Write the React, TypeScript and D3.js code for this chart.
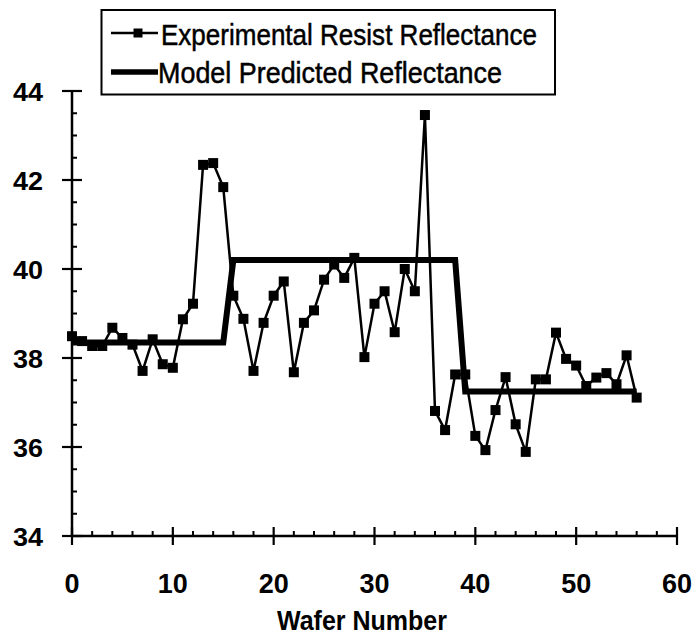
import React from "react";
import * as d3 from "d3";

const waferNumbers: number[] = d3.range(0, 57);
const experimental: number[] = [
  38.49, 38.38, 38.27, 38.27, 38.68, 38.45, 38.3, 37.71, 38.42, 37.86,
  37.78, 38.87, 39.22, 42.34, 42.38, 41.84, 39.4, 38.88, 37.71, 38.79,
  39.4, 39.72, 37.68, 38.79, 39.07, 39.76, 40.1, 39.8, 40.25, 38.02,
  39.22, 39.5, 38.58, 40.0, 39.5, 43.46, 36.81, 36.38, 37.63, 37.63,
  36.25, 35.93, 36.83, 37.57, 36.51, 35.89, 37.52, 37.52, 38.57, 37.98,
  37.83, 37.37, 37.56, 37.66, 37.41, 38.06, 37.11,
];
const modelX: number[] = [0, 15, 16, 38, 39, 56];
const modelY: number[] = [38.35, 38.35, 40.2, 40.2, 37.25, 37.25];
const xTicks: number[] = [0, 10, 20, 30, 40, 50, 60];
const yTicks: number[] = [34, 36, 38, 40, 42, 44];
const legendLabels: string[] = ["Experimental Resist Reflectance", "Model Predicted Reflectance"];
const xTitle = "Wafer Number";

const FONT = "'Liberation Sans', Arial, Helvetica, sans-serif";

export default function App() {
  const x = d3.scaleLinear().domain([0, 60]).range([72, 677]);
  const y = d3.scaleLinear().domain([34, 44]).range([536, 91]);

  const expLine = d3
    .line<number>()
    .x((_, i) => x(waferNumbers[i]))
    .y((d) => y(d));
  const modelLine = d3
    .line<number>()
    .x((_, i) => x(modelX[i]))
    .y((d) => y(d));

  const xMinor = d3.range(0, 61, 2).filter((v) => v % 10 !== 0);
  const yMinor = d3.range(34, 44.01, 0.5).filter((v) => Math.abs(v % 2) > 0.01);
  const ms = 10;

  return (
    <div style={{ position: "absolute", left: 0, top: 0 }}>
      <svg width={696} height={639} style={{ display: "block", background: "#fff" }}>
        {/* legend */}
        <rect x={101.5} y={10} width={453.5} height={84.5} fill="none" stroke="#000" strokeWidth={2} />
        <line x1={111} x2={158} y1={33} y2={33} stroke="#000" strokeWidth={2.5} />
        <rect x={138 - 4.5} y={33 - 4.5} width={9} height={9} fill="#000" />
        <text
          x={161}
          y={45}
          fontFamily={FONT}
          fontSize={30}
          stroke="#000"
          strokeWidth={0.5}
          textLength={376}
          lengthAdjust="spacingAndGlyphs"
        >
          {legendLabels[0]}
        </text>
        <line x1={111} x2={158} y1={72} y2={72} stroke="#000" strokeWidth={5.5} />
        <text
          x={158}
          y={83}
          fontFamily={FONT}
          fontSize={30}
          stroke="#000"
          strokeWidth={0.5}
          textLength={344}
          lengthAdjust="spacingAndGlyphs"
        >
          {legendLabels[1]}
        </text>

        {/* axes */}
        <line x1={x(0)} x2={x(0)} y1={y(44)} y2={y(34)} stroke="#000" strokeWidth={2.5} />
        <line x1={x(0)} x2={x(60)} y1={y(34)} y2={y(34)} stroke="#000" strokeWidth={2.5} />
        {yTicks.map((t) => (
          <g key={"yt" + t}>
            <line x1={x(0) - 10} x2={x(0) + 10} y1={y(t)} y2={y(t)} stroke="#000" strokeWidth={2.2} />
            <text
              x={43}
              y={y(t) + 9.5}
              textAnchor="end"
              fontFamily={FONT}
              fontWeight="bold"
              fontSize={26}
              textLength={30}
              lengthAdjust="spacingAndGlyphs"
            >
              {t}
            </text>
          </g>
        ))}
        {yMinor.map((t) => (
          <line key={"ym" + t} x1={x(0)} x2={x(0) + 5} y1={y(t)} y2={y(t)} stroke="#000" strokeWidth={2} />
        ))}
        {xTicks.map((t) => (
          <g key={"xt" + t}>
            <line x1={x(t)} x2={x(t)} y1={y(34) - 9} y2={y(34) + 9} stroke="#000" strokeWidth={2.2} />
            <text
              x={x(t)}
              y={593}
              textAnchor="middle"
              fontFamily={FONT}
              fontWeight="bold"
              fontSize={27}
            >
              {t}
            </text>
          </g>
        ))}
        {xMinor.map((t) => (
          <line key={"xm" + t} x1={x(t)} x2={x(t)} y1={y(34)} y2={y(34) - 5} stroke="#000" strokeWidth={2} />
        ))}
        <text
          x={362}
          y={630}
          textAnchor="middle"
          fontFamily={FONT}
          fontWeight="bold"
          fontSize={28}
          textLength={170}
          lengthAdjust="spacingAndGlyphs"
        >
          {xTitle}
        </text>

        {/* model */}
        <path d={modelLine(modelY) || ""} fill="none" stroke="#000" strokeWidth={6} strokeLinejoin="miter" />

        {/* experimental */}
        <path d={expLine(experimental) || ""} fill="none" stroke="#000" strokeWidth={2.5} />
        {experimental.map((v, i) => (
          <rect
            key={"m" + i}
            x={x(waferNumbers[i]) - ms / 2}
            y={y(v) - ms / 2}
            width={ms}
            height={ms}
            fill="#000"
          />
        ))}
      </svg>
    </div>
  );
}
